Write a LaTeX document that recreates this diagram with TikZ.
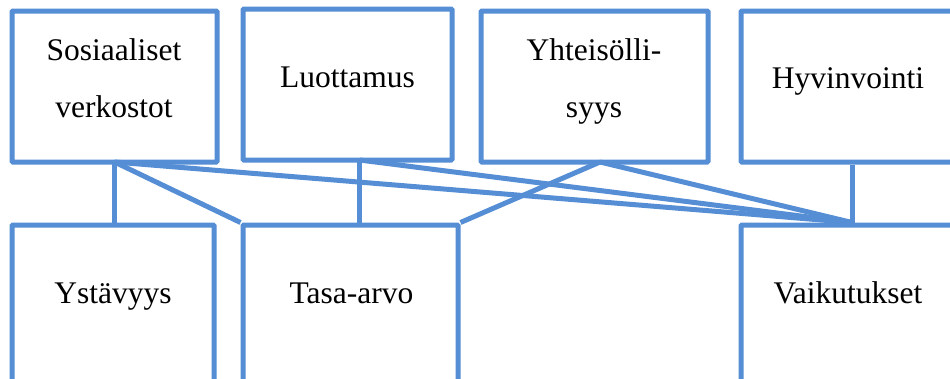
\documentclass[tikz,border=0pt]{standalone}
\usepackage{fontspec}
\setmainfont{Liberation Serif}
\definecolor{boxblue}{RGB}{85,142,213}
\tikzset{
  boxnode/.style={draw=boxblue, line width=5pt, rectangle, minimum height=151pt, inner sep=0pt, rounded corners=1pt},
  lowbox/.style={boxnode, minimum height=160pt},
  conn/.style={draw=boxblue, line width=5pt},
  txt/.style={anchor=base, inner sep=0pt, font=\fontsize{31.5}{36}\selectfont}
}
\begin{document}
\begin{tikzpicture}[x=1pt,y=-1pt]
\useasboundingbox (0,0) rectangle (950,378);
\fill[white] (0,0) rectangle (950,378);
\coordinate (c1) at (114.5,162);
\coordinate (c2) at (359.5,160);
\coordinate (c3) at (600,162);
% boxes
\node[boxnode, minimum width=205pt] (b1) at (114.5,86.5) {};
\node[boxnode, minimum width=209pt] (b2) at (347.5,84.5) {};
\node[boxnode, minimum width=227pt] (b3) at (594.5,86.5) {};
\node[boxnode, minimum width=222pt] (b4) at (852,86.5) {};
\node[lowbox, minimum width=202pt] (b5) at (113,305) {};
\node[lowbox, minimum width=215pt] (b6) at (350.5,305) {};
\node[lowbox, minimum width=222pt] (b7) at (852,305) {};
% connectors
\draw[conn] (c1) -- (c1 |- b5.north);
\draw[conn] (c1) -- (b6.north west);
\draw[conn] (c1) -- (b7.north);
\draw[conn] (c2) -- (c2 |- b6.north);
\draw[conn] (c2) -- (b7.north);
\draw[conn] (c3) -- (b6.north east);
\draw[conn] (c3) -- (b7.north);
\draw[conn] (b4.south) -- (b7.north);
% texts
\node[txt] (t1a) at (114,60) {Sosiaaliset};
\node[txt] (t1b) at (114,117) {verkostot};
\node[txt] (t2) at (347.5,87) {Luottamus};
\node[txt] (t3a) at (594,60) {Yhteisölli-};
\node[txt] (t3b) at (594,117) {syys};
\node[txt] (t4) at (848,88) {Hyvinvointi};
\node[txt] (t5) at (113,303) {Ystävyys};
\node[txt] (t6) at (351.5,303) {Tasa-arvo};
\node[txt] (t7) at (848,303) {Vaikutukset};
\end{tikzpicture}
\end{document}
